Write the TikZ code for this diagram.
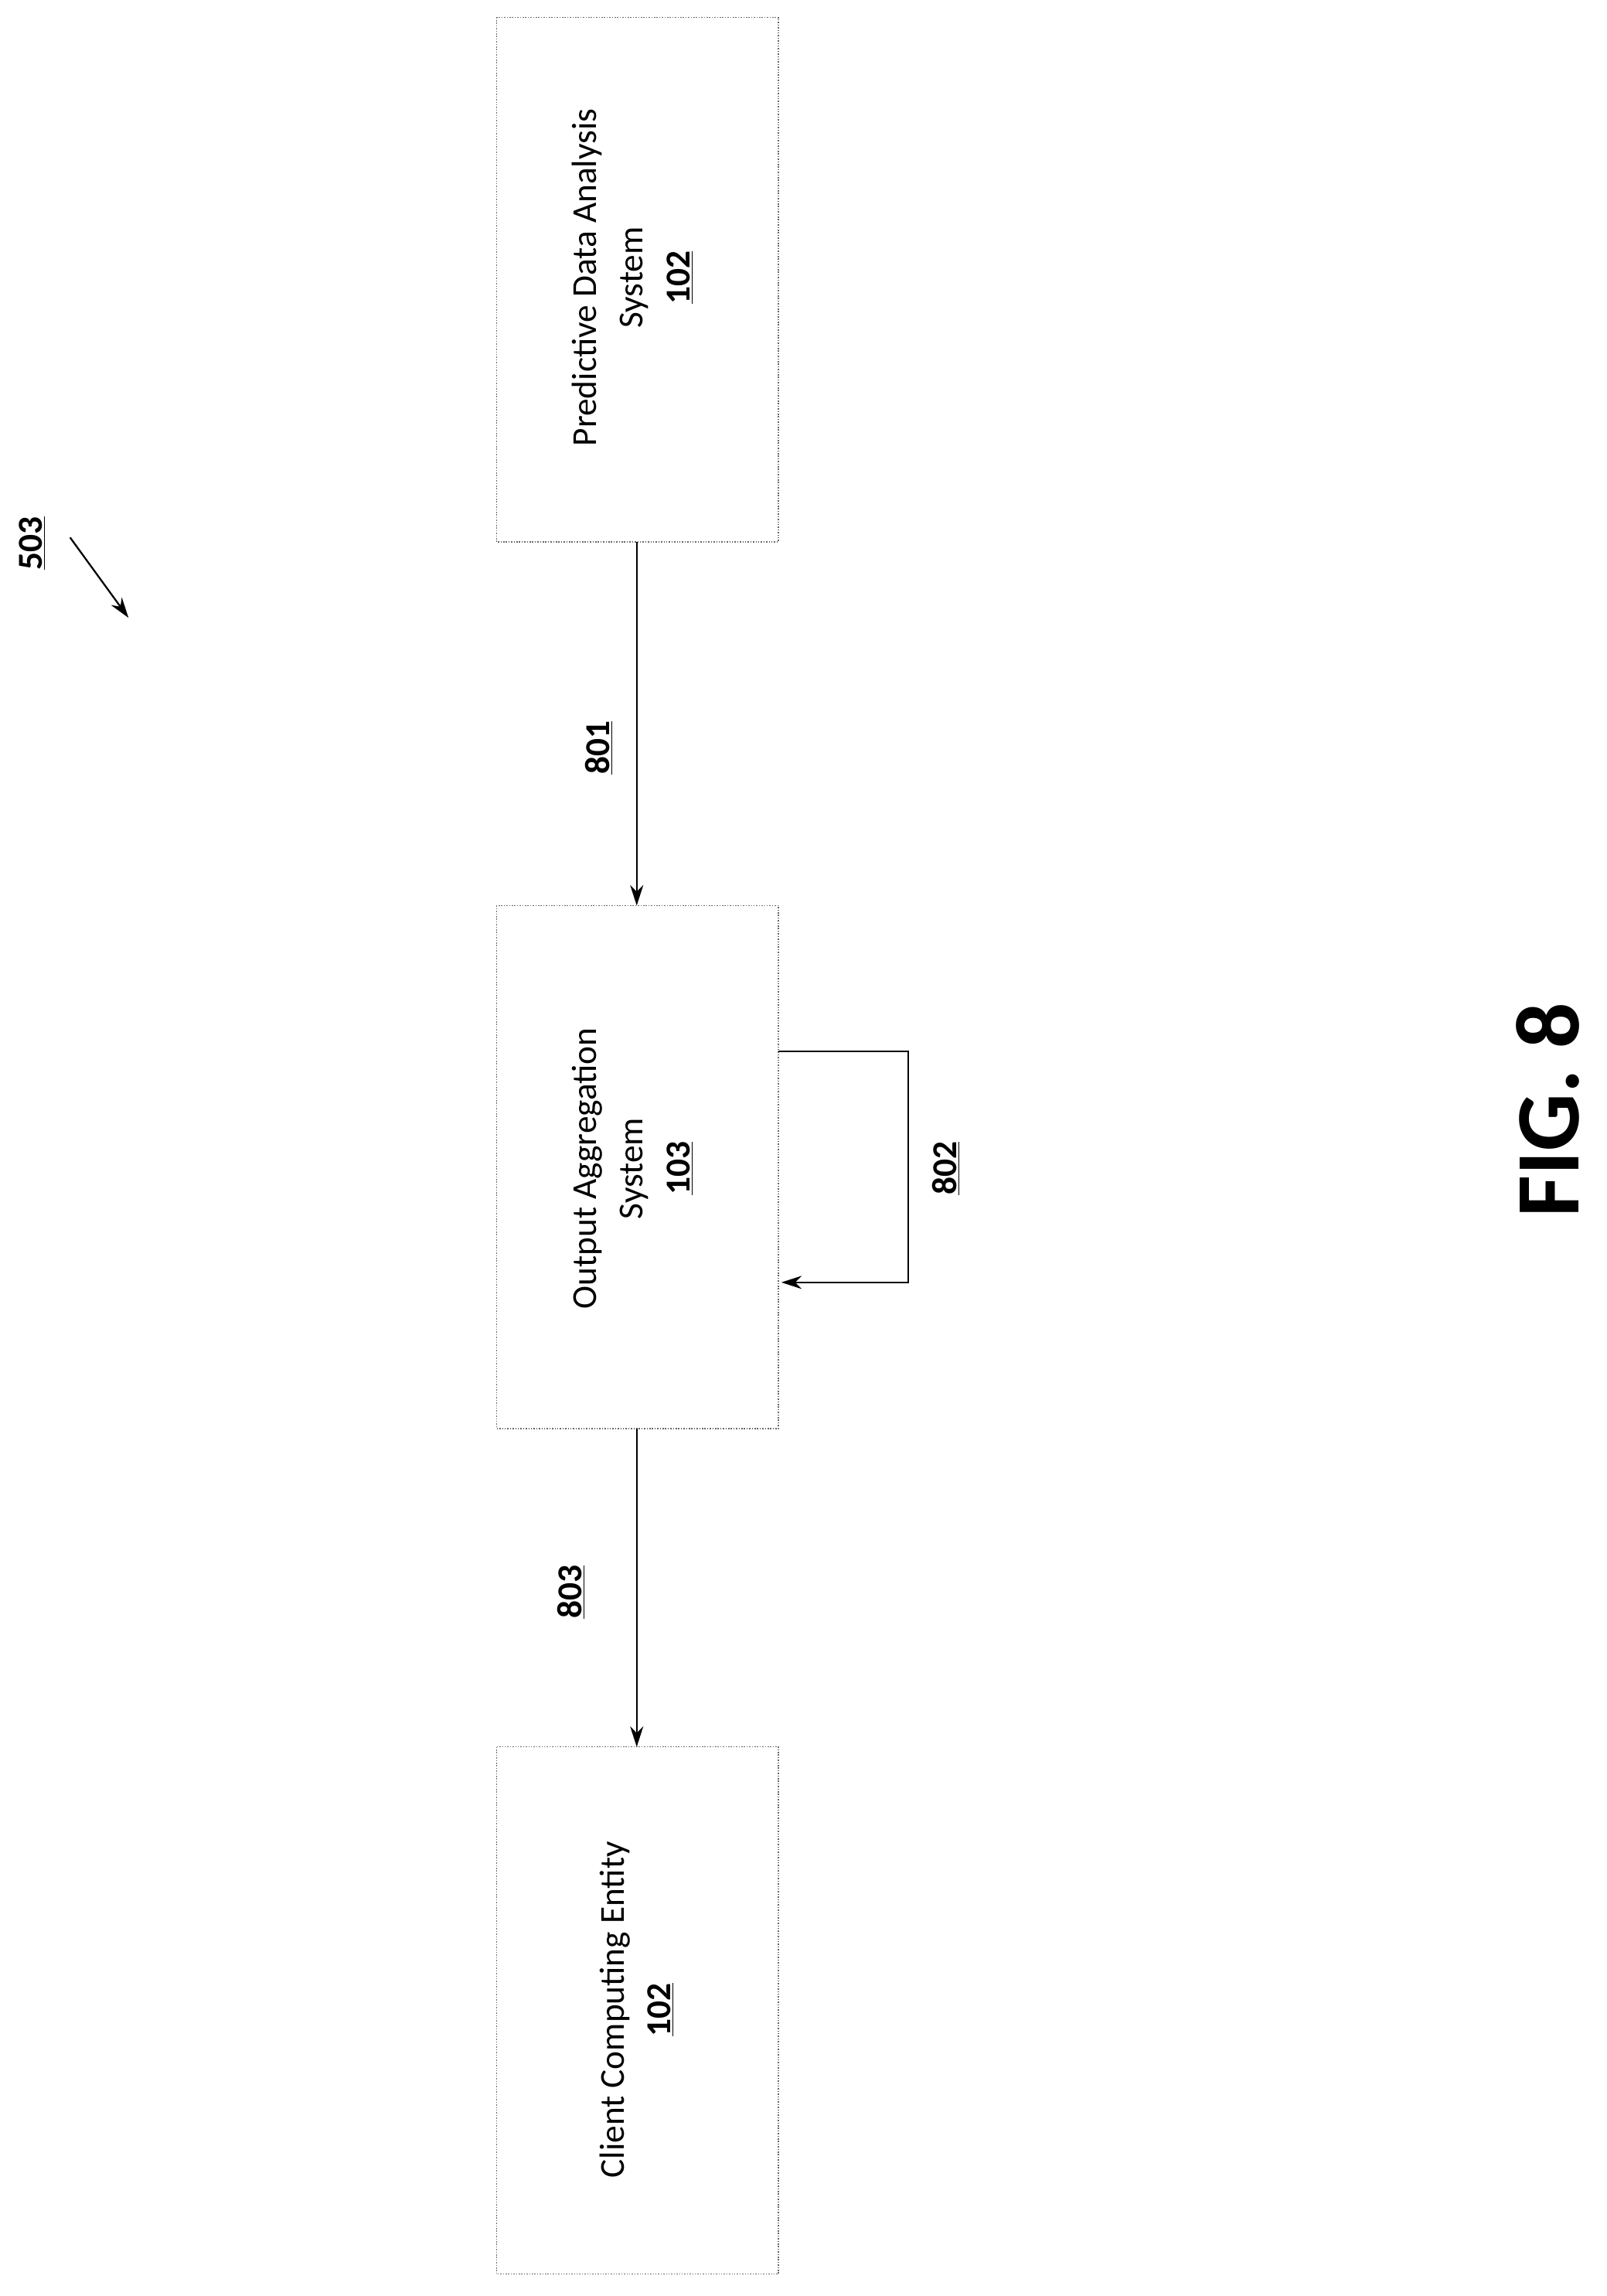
\documentclass[tikz,border=0pt]{standalone}
\usepackage{fontspec}
\setmainfont{Carlito}
\usetikzlibrary{arrows.meta}
\begin{document}
\begin{tikzpicture}[x=1pt,y=-1pt,
  box/.style={draw=black!60,densely dotted,line width=0.8pt},
  lbl/.style={rotate=90,font=\fontsize{24}{32}\selectfont,align=center},
  num/.style={rotate=90,font=\fontsize{24}{32}\selectfont\bfseries},
  arr/.style={-{Stealth[length=14pt,width=9pt]},line width=1.2pt}]
\useasboundingbox (0,0) rectangle (1100,1572);
\draw[box] (340,12) rectangle (533,371);
\node (a) at (436.5,191.5) {};
\coordinate (aS) at (436,371);
\draw[box] (340,620) rectangle (533,978);
\coordinate (bN) at (436,620);
\coordinate (bS) at (436,978);
\draw[box] (340,1196) rectangle (533,1557);
\coordinate (cN) at (436,1196);
\node[lbl] (ta) at (433,190) {Predictive Data Analysis\\System\\\textbf{\underline{102}}};
\node[lbl] (tb) at (433,800) {Output Aggregation\\System\\\textbf{\underline{103}}};
\node[lbl] (tc) at (436,1376) {Client Computing Entity\\\textbf{\underline{102}}};
\draw[arr] (aS) -- (bN);
\draw[arr] (bS) -- (cN);
\coordinate (l1) at (533,720);
\coordinate (l2) at (622,720);
\coordinate (l3) at (622,878);
\coordinate (l4) at (535,878);
\draw[arr] (l1) -- (l2) -- (l3) -- (l4);
\node[num] (n801) at (410,512) {\underline{801}};
\node[num] (n802) at (648,800) {\underline{802}};
\node[num] (n803) at (391,1090) {\underline{803}};
\node[num] (n503) at (22,372) {\underline{503}};
\coordinate (p1) at (48,368);
\coordinate (p2) at (88,423);
\draw[arr] (p1) -- (p2);
\node[rotate=90,font=\fontsize{62}{70}\selectfont\bfseries] (fig) at (1060,760) {FIG. 8};
\end{tikzpicture}
\end{document}
